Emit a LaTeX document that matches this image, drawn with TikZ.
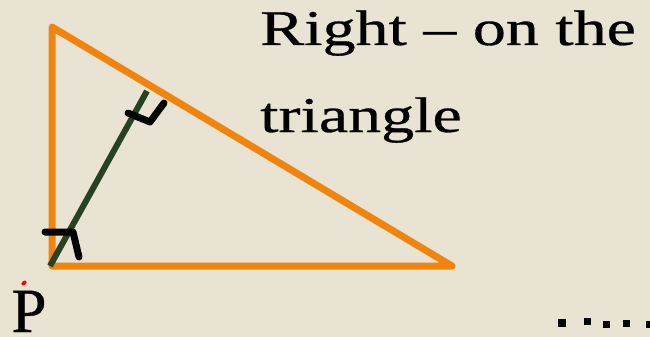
\documentclass[tikz,border=0pt]{standalone}
\usepackage{fontspec}
\setmainfont{Liberation Serif}
\newfontfamily\titlefont[FakeStretch=1.32,FakeBold=0.6]{Liberation Serif}
\newfontfamily\plabelfont[FakeBold=0.6]{Liberation Serif}
\definecolor{bgbeige}{RGB}{233,227,211}
\definecolor{triorange}{RGB}{240,132,12}
\definecolor{altgreen}{RGB}{38,66,35}
\tikzset{
  triside/.style={draw=triorange, line width=7pt, line join=round, line cap=round},
  altline/.style={draw=altgreen, line width=6pt},
  rightmark/.style={draw=black, line width=7pt, line join=round, line cap=round},
  dotsq/.style={fill=black, minimum size=7pt, inner sep=0pt, draw=none},
  titletext/.style={font=\titlefont\fontsize{50}{87}\selectfont, anchor=base west, inner sep=0pt, align=left}
}
\begin{document}
\begin{tikzpicture}[x=1pt,y=-1pt]
\fill[bgbeige] (0,0) rectangle (650,337);
\useasboundingbox (0,0) rectangle (650,337);
% triangle
\coordinate (A) at (52,27);
\coordinate (B) at (52,266);
\coordinate (C) at (452,266);
\draw[triside] (A) -- (C) -- (B) -- cycle;
% altitude
\coordinate (G0) at (50,266);
\coordinate (G1) at (147,91);
\draw[altline] (G0) -- (G1);
% right angle marks
\coordinate (m1a) at (128,113);
\coordinate (m1b) at (150,122);
\coordinate (m1c) at (164,103);
\draw[rightmark] (m1a) -- (m1b) -- (m1c);
\coordinate (m2a) at (45,232);
\coordinate (m2b) at (73,232);
\coordinate (m2c) at (79,257);
\draw[rightmark] (m2a) -- (m2b) -- (m2c);
% label P
\node[font=\plabelfont\fontsize{63}{70}\selectfont, anchor=base, inner sep=0pt] (P) at (29,332) {P};
\fill[red, rotate around={40:(24,283)}] (24,283) ellipse (3pt and 2pt);
% title
\node[titletext] (t1) at (260,45) {Right – on the};
\node[titletext] (t2) at (260,132) {triangle};
% dots
\node[dotsq, minimum size=8pt] (d1) at (562,323) {};
\node[dotsq] (d2) at (587,321) {};
\node[dotsq] (d3) at (606,324) {};
\node[dotsq] (d4) at (626,323) {};
\node[dotsq, minimum width=4pt, minimum height=7pt] (d5) at (648,324) {};
\end{tikzpicture}
\end{document}
